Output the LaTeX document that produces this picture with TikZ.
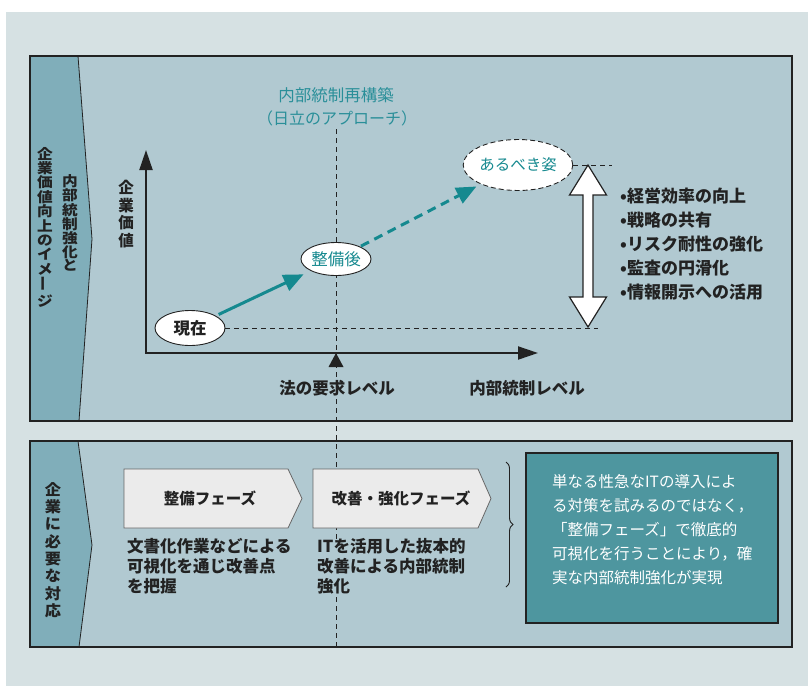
\documentclass[tikz,border=0pt]{standalone}
\usepackage{fontspec}
\setmainfont{Noto Sans CJK JP}
\usetikzlibrary{arrows.meta,decorations.pathreplacing,shapes.geometric}
\definecolor{bgc}{HTML}{D6E1E3}
\definecolor{panelc}{HTML}{B1C9D1}
\definecolor{labelc}{HTML}{80AEBA}
\definecolor{tealc}{HTML}{15898F}
\definecolor{titlec}{HTML}{2A8F99}
\definecolor{boxc}{HTML}{4E969F}
\definecolor{chevc}{HTML}{EBEBEB}
\definecolor{linec}{HTML}{222222}
\begin{document}
\begin{tikzpicture}[x=1pt,y=-1pt,
  panelbox/.style={draw=linec,line width=2pt,fill=panelc},
  labfill/.style={fill=labelc},
  divline/.style={draw=linec,line width=0.8pt},
  vlab/.style={align=center,inner sep=0pt,text=linec},
  axisline/.style={draw=linec,line width=2pt},
  thindash/.style={draw=linec,line width=0.9pt,dash pattern=on 5pt off 4pt},
  oval/.style={ellipse,draw=linec,line width=0.9pt,fill=white,inner sep=0pt},
  tealarrow/.style={draw=tealc,line width=3pt,-{Triangle[length=20pt,width=17pt]}},
  chev/.style={fill=chevc,draw=black!60,line width=0.8pt},
  bodytext/.style={align=left,inner sep=0pt,text=linec,font=\bfseries\fontsize{16.5}{20}\selectfont}
]
\useasboundingbox (0,0) rectangle (808,686);
\fill[white] (0,0) rectangle (808,686);
\fill[bgc] (6,12) rectangle (808,686);

% ---------- top panel ----------
\draw[panelbox] (30,56) rectangle (792,421);
\fill[labfill] (30,56) -- (78,56) -- (92,239) -- (79,421) -- (30,421) -- cycle;
\draw[divline] (78,56) -- (92,239) -- (79,421);
\draw[draw=linec,line width=2pt] (30,56) rectangle (792,421);

\node[vlab,font=\bfseries\fontsize{14}{12.8}\selectfont\addfontfeature{FakeStretch=1.12}] (labA) at (70,223) {内\\部\\統\\制\\強\\化\\と};
\node[vlab,font=\bfseries\fontsize{14}{14.4}\selectfont\addfontfeature{FakeStretch=1.12}] (labB) at (45,227) {企\\業\\価\\値\\向\\上\\の\\イ\\メ\\\rotatebox{90}{ー}\\ジ};

% ---------- bottom panel ----------
\draw[panelbox] (30,441) rectangle (792,647);
\fill[labfill] (30,441) -- (78,441) -- (92,545) -- (79,647) -- (30,647) -- cycle;
\draw[divline] (78,441) -- (92,545) -- (79,647);
\draw[draw=linec,line width=2pt] (30,441) rectangle (792,647);
\node[vlab,font=\bfseries\fontsize{15}{17.3}\selectfont\addfontfeature{FakeStretch=1.08}] (labC) at (53,550) {企\\業\\に\\必\\要\\な\\対\\応};

% ---------- title and vertical dashed line ----------
\node[inner sep=0pt,text=titlec,font=\fontsize{16.5}{20}\selectfont] (title1) at (336,95) {内部統制再構築};
\node[inner sep=0pt,text=titlec,font=\fontsize{16}{20}\selectfont] (title2) at (337,118) {（日立のアプローチ）};
\coordinate (vtop) at (336,129);
\coordinate (vbot) at (336,646);
\draw[thindash] (vtop) -- (vbot);

% ---------- axes ----------
\coordinate (ytip) at (146,150);
\coordinate (orig) at (146,353);
\coordinate (xtip) at (538,353);
\draw[axisline,{Triangle[length=20pt,width=13pt]}-{Triangle[length=20pt,width=13pt]}] (ytip) -- (orig) -- (xtip);
\fill[linec] (336,353) -- (343.5,367) -- (328.5,367) -- cycle;

\node[vlab,font=\bfseries\fontsize{15.5}{17.5}\selectfont] (ylab) at (126,214) {企\\業\\価\\値};
\node[inner sep=0pt,text=linec,font=\bfseries\fontsize{16.5}{20}\selectfont] (xlab1) at (337,388) {法の要求レベル};
\node[inner sep=0pt,text=linec,font=\bfseries\fontsize{16.5}{20}\selectfont] (xlab2) at (527,388) {内部統制レベル};

% ---------- ovals ----------
\node[oval,minimum width=70pt,minimum height=35pt,font=\bfseries\fontsize{16.5}{20}\selectfont,text=linec] (now) at (190,328) {現在};
\node[oval,minimum width=70pt,minimum height=33pt,font=\fontsize{16.5}{20}\selectfont,text=tealc] (after) at (336,259) {整備後};
\node[oval,dash pattern=on 5pt off 3pt,minimum width=103pt,minimum height=51pt,font=\fontsize{15.5}{20}\selectfont,text=tealc] (ideal) at (518,165) {あるべき姿};

\coordinate (dbot) at (598,328);
\coordinate (dtopr) at (612,165);
\draw[thindash] (now.east) -- (dbot);
\draw[thindash] (ideal.east) -- (dtopr);

\draw[tealarrow,shorten <=3pt,shorten >=8pt] (now) -- (after);
\draw[tealarrow,dash pattern=on 9pt off 6pt,shorten <=1pt,shorten >=5pt] (after) -- (ideal);

% ---------- double white arrow ----------
\draw[fill=white,draw=linec,line width=1.2pt,line join=miter]
  (588,165) -- (606.5,195) -- (593,195) -- (593,297) -- (606.5,297) -- (588,327)
  -- (569.5,297) -- (583,297) -- (583,195) -- (569.5,195) -- cycle;

\node[bodytext,anchor=north west,font=\bfseries\fontsize{17}{24}\selectfont] (bullets) at (620,188)
  {•経営効率の向上\\•戦略の共有\\•リスク耐性の強化\\•監査の円滑化\\•情報開示への活用};

% ---------- phases ----------
\draw[chev] (124,469) -- (288,469) -- (302,498.5) -- (288,528) -- (124,528) -- cycle;
\node[inner sep=0pt,text=linec,font=\bfseries\fontsize{15.5}{20}\selectfont] (ph1) at (210,498.5) {整備フェーズ};
\draw[chev] (313,469) -- (478,469) -- (491,498.5) -- (478,528) -- (313,528) -- cycle;
\node[inner sep=0pt,text=linec,font=\bfseries\fontsize{15.5}{20}\selectfont] (ph2) at (401,498.5) {改善・強化フェーズ};

\node[bodytext,anchor=north west,fill=panelc] (desc1) at (127,538.5)
  {文書化作業などによる\\可視化を通じ改善点\\を把握};
\node[bodytext,anchor=north west,fill=panelc] (desc2) at (317,538.5)
  {ITを活用した抜本的\\改善による内部統制\\強化};

\coordinate (brt) at (506,462);
\coordinate (brb) at (506,587);
\draw[draw=linec,line width=0.9pt,decorate,decoration={brace,amplitude=7pt}] (brt) -- (brb);

% ---------- teal box ----------
\draw[fill=boxc,draw=linec,line width=1.2pt] (526,453) rectangle (778,623);
\node[anchor=north west,inner sep=0pt,align=left,text=white,font=\fontsize{15.5}{24}\selectfont] (concl) at (552,474.5)
  {単なる性急なITの導入によ\\る対策を試みるのではなく，\\「整備フェーズ」で徹底的\\可視化を行うことにより，確\\実な内部統制強化が実現};
\end{tikzpicture}
\end{document}
